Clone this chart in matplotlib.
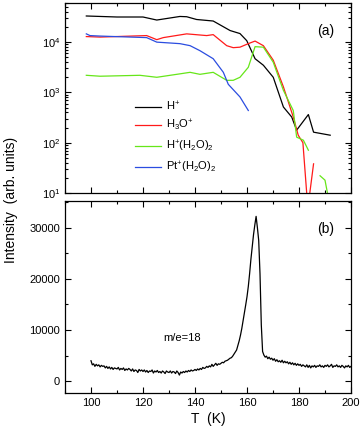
import numpy as np
import matplotlib
matplotlib.use("Agg")
import matplotlib.pyplot as plt
from matplotlib.ticker import MultipleLocator, LogLocator, NullFormatter

plt.rcParams['font.family'] = ['Liberation Sans', 'DejaVu Sans']
plt.rcParams['mathtext.fontset'] = 'custom'
plt.rcParams['mathtext.rm'] = 'Liberation Sans'
plt.rcParams['mathtext.it'] = 'Liberation Sans:italic'
plt.rcParams['mathtext.bf'] = 'Liberation Sans:bold'

# (a) ion yields
t_h = [98.2, 110, 120, 125.3, 127.8, 134.2, 136.8, 140.6, 147, 153.5, 157.3, 159.9,
       163.1, 166.3, 170.1, 174, 177.2, 179.1, 183.6, 185.6, 192]
h_plus = [33100, 31600, 31600, 27500, 28800, 32400, 32000, 28200, 26300, 17000, 14800, 10700,
          4680, 3470, 2000, 513, 324, 178, 363, 162, 141]

t_h3o = [98.2, 103.5, 121.4, 125.3, 127.8, 136.8, 144.5, 147, 152.2, 154.7, 157.3, 160.5,
         163.1, 166.3, 170.1, 174, 177.8, 179.7, 181.5, 183.4, 185.6]
h3o_plus = [12900, 12600, 13500, 11200, 12300, 14600, 13500, 14100, 8500, 7760, 7940, 9330,
            10500, 8500, 4370, 1290, 324, 141, 100, 5, 38]

t_h2o2 = [98.2, 103.5, 118.8, 125.3, 134.2, 138.1, 141.9, 147, 152.2, 154.7, 157.3, 160.5,
          163.1, 166.3, 170.1, 174, 177.8, 179.1, 181.7, 183.6, 185.8, 188.1, 190, 191.3]
h_h2o2 = [2190, 2100, 2190, 2000, 2340, 2510, 2290, 2510, 1740, 1740, 2000, 3160,
          8130, 7940, 3980, 1100, 436, 129, 112, 71, np.nan, 22, 18, 8]

t_pt = [98.2, 99.6, 103.5, 121.4, 125.3, 134.2, 138.1, 141.9, 147, 150.9, 152.8, 157.3, 160.5]
pt_h2o2 = [14600, 13500, 13200, 12300, 10000, 9330, 8510, 6760, 4680, 2510, 1450, 813, 437]

# (b) m/e=18 TPD trace, 0.5 K steps from 100 K to 200 K
t_tpd = np.arange(100, 200.5, 0.5)
tpd = [
    4000, 3200, 3400, 2900, 3300, 3000, 3200, 2800, 3100, 2900,
    3000, 2600, 2900, 2500, 2800, 2400, 2700, 2300, 2600, 2500,
    2400, 2700, 2200, 2500, 2300, 2600, 2100, 2400, 2200, 2500,
    2300, 2000, 2400, 1900, 2200, 2100, 1700, 2300, 2000, 2200,
    1900, 2200, 1800, 2100, 1700, 2000, 1900, 2200, 1600, 2000,
    1800, 2100, 1700, 1900, 1600, 2000, 1800, 1500, 2000, 1800,
    1700, 2000, 1600, 1900, 1800, 1500, 2000, 1700, 1200, 1800,
    1600, 1900, 1700, 2000, 1800, 2100, 1900, 2200, 2000, 2100,
    2300, 2100, 2400, 2200, 2500, 2300, 2700, 2500, 2600, 2900,
    2700, 3000, 2800, 3300, 2900, 3200, 3500, 3100, 3400, 3300,
    3500, 3700, 3600, 3900, 4000, 4100, 4300, 4500, 4600, 4900,
    5300, 5700, 6100, 7000, 7900, 9000, 10300, 11800, 13300, 14900,
    16500, 18500, 21000, 23800, 26300, 28600, 30500, 32200, 30000, 27500,
    21000, 11000, 5800, 5100, 4700, 4900, 4400, 4700, 4300, 4500,
    4100, 4400, 3900, 4200, 3800, 4000, 3700, 4100, 3600, 3900,
    3600, 3800, 3400, 3700, 3300, 3600, 3200, 3500, 3100, 3400,
    3100, 3300, 2900, 3200, 3000, 2800, 3200, 2700, 3100, 2600,
    3000, 2800, 3100, 2700, 3000, 2900, 3200, 2800, 3000, 2700,
    3100, 2900, 3200, 2800, 3000, 3300, 2700, 3000, 2900, 3200,
    2800, 3000, 2700, 3100, 2900, 2600, 3000, 2800, 3100, 2700,
    2900,
]

fig = plt.figure(figsize=(3.62, 4.36), dpi=100)
ax1 = fig.add_axes([65 / 362, 1 - 193 / 436, 286 / 362, 190 / 436])
ax2 = fig.add_axes([65 / 362, 1 - 393 / 436, 286 / 362, 192.5 / 436])

lw = 0.9
ax1.plot(t_h, h_plus, color='black', lw=lw, label=r'H$^{+}$')
ax1.plot(t_h3o, h3o_plus, color='#ff1a1a', lw=lw, label=r'H$_3$O$^{+}$')
ax1.plot(t_h2o2, h_h2o2, color='#66e619', lw=lw, label=r'H$^{+}$(H$_2$O)$_2$')
ax1.plot(t_pt, pt_h2o2, color='#2b4de0', lw=lw, label=r'Pt$^{+}$(H$_2$O)$_2$')
ax1.set_yscale('log')
ax1.set_xlim(90, 200)
ax1.set_ylim(10, 6e4)
ax1.yaxis.set_major_locator(LogLocator(base=10, numticks=10))
ax1.yaxis.set_minor_locator(LogLocator(base=10, subs=np.arange(2, 10), numticks=10))
ax1.yaxis.set_minor_formatter(NullFormatter())
ax1.xaxis.set_major_locator(MultipleLocator(20))
ax1.xaxis.set_minor_locator(MultipleLocator(10))
ax1.tick_params(labelbottom=False)
ax1.text(0.91, 0.85, '(a)', transform=ax1.transAxes, ha='center', va='center', fontsize=10)
ax1.legend(loc='upper left', bbox_to_anchor=(0.228, 0.515), frameon=False, fontsize=8,
           handlelength=2.4, handletextpad=0.4, labelspacing=0.5, borderaxespad=0)

ax2.plot(t_tpd, tpd, color='black', lw=0.9)
ax2.set_xlim(90, 200)
ax2.set_ylim(-2300, 35300)
ax2.xaxis.set_major_locator(MultipleLocator(20))
ax2.xaxis.set_minor_locator(MultipleLocator(10))
ax2.yaxis.set_major_locator(MultipleLocator(10000))
ax2.yaxis.set_minor_locator(MultipleLocator(5000))
ax2.text(0.91, 0.85, '(b)', transform=ax2.transAxes, ha='center', va='center', fontsize=10)
ax2.text(0.41, 0.285, 'm/e=18', transform=ax2.transAxes, ha='center', va='center', fontsize=8)
ax2.set_xlabel('T  (K)', fontsize=10, labelpad=3)

for ax in (ax1, ax2):
    ax.tick_params(which='both', direction='in', top=True, right=True, labelsize=8, width=0.8)
    ax.tick_params(which='major', length=4)
    ax.tick_params(which='minor', length=2)
    for s in ax.spines.values():
        s.set_linewidth(0.9)

fig.text(0.03, 1 - 200 / 436, 'Intensity  (arb. units)', rotation=90, ha='center', va='center', fontsize=10)

fig.savefig('out.png', dpi=100)
